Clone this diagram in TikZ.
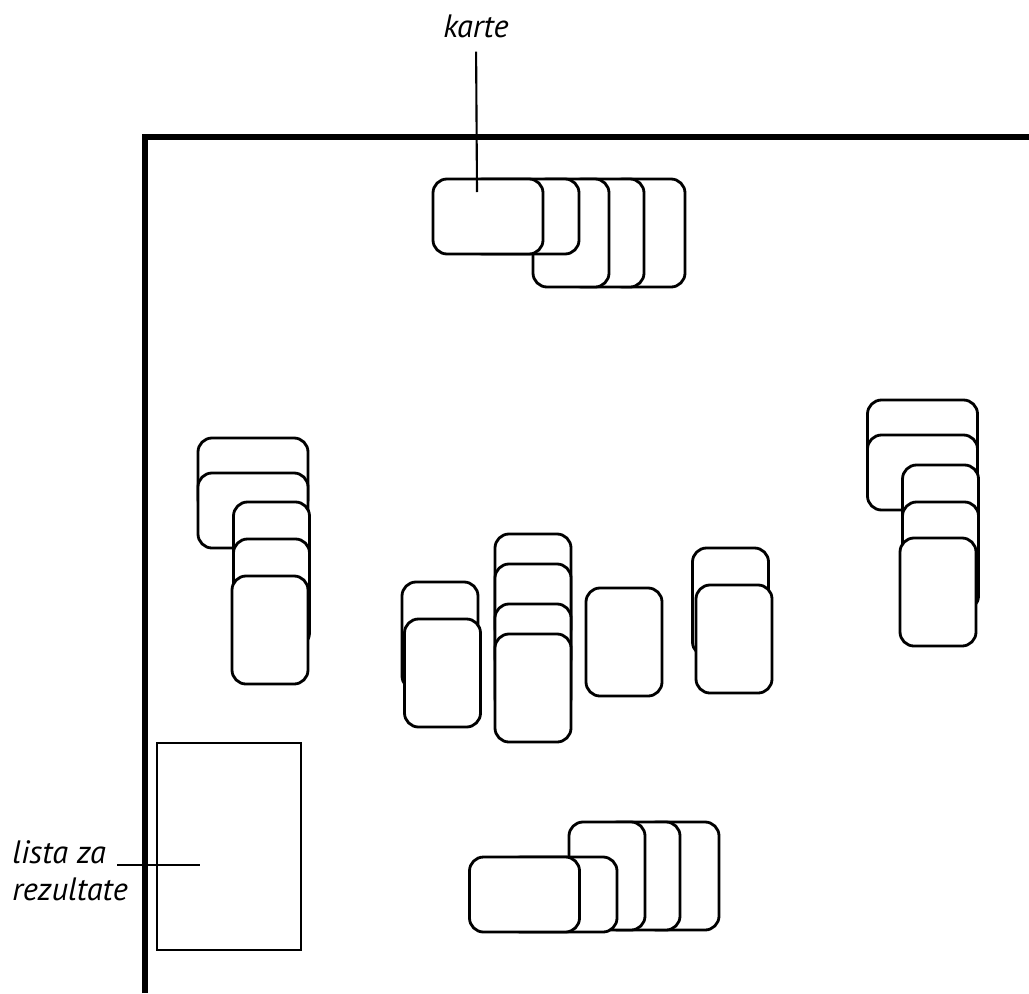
\documentclass[tikz,border=0pt]{standalone}
\usepackage{fontspec}
\setmainfont{PT Sans}
\usepackage{tikz}

\begin{document}
\begin{tikzpicture}[x=0.025cm, y=-0.025cm,
    every node/.style={font=\fontsize{23}{27}\selectfont\itshape, inner sep=0pt},
    card/.style={draw, fill=white, line width=2pt, rounded corners=10pt, outer sep=0pt},
    tall/.style={card, minimum width=1.9cm, minimum height=2.7cm},
    wide/.style={card, minimum width=2.75cm, minimum height=1.875cm},
    pointer/.style={line width=1.5pt}]

\useasboundingbox (0,0) rectangle (1029,993);

% Table edge
\draw[line width=3.8pt] (145,993) -- (145,137) -- (1029,137);

% Top pile
\node[tall] (tE) at (647,233) {};
\node[tall] (tD) at (606,233) {};
\node[tall] (tC) at (571,233) {};
\node[wide] (tB) at (524,216.5) {};
\node[wide] (tA) at (488,216.5) {};

% Left pile
\node[wide] (l1) at (253,475.5) {};
\node[wide] (l2) at (253,510.5) {};
\node[tall] (l3) at (271.5,556) {};
\node[tall] (l4) at (271.5,593) {};
\node[tall] (l5) at (270,630) {};

% Middle piles
\node[tall] (m1a) at (440,636) {};
\node[tall] (m1b) at (442.5,673) {};

\node[tall] (m2a) at (533,588) {};
\node[tall] (m2b) at (533,618) {};
\node[tall] (m2c) at (533,658) {};
\node[tall] (m2d) at (533,688) {};

\node[tall] (m3) at (624,642) {};

\node[tall] (m4a) at (730.5,602) {};
\node[tall] (m4b) at (734,639) {};

% Right pile
\node[wide] (r1) at (922.5,437.5) {};
\node[wide] (r2) at (922.5,472.5) {};
\node[tall] (r3) at (940.5,519) {};
\node[tall] (r4) at (940.5,556) {};
\node[tall] (r5) at (938,592) {};

% Bottom pile
\node[tall] (bE) at (681,876) {};
\node[tall] (bD) at (642,876) {};
\node[tall] (bC) at (607,876) {};
\node[wide] (bB) at (562,894.5) {};
\node[wide] (bA) at (524.5,894.5) {};

% Score sheet
\node[draw, line width=1.6pt, minimum width=3.6cm, minimum height=5.175cm] (sheet) at (229,846.5) {};

% Labels
\node[anchor=base] (karte) at (476,37) {karte};
\coordinate (kend) at (477,192);
\draw[pointer, shorten <=10pt] (karte.south) -- (kend);

\node[anchor=base west] (lista) at (12,863) {lista za};
\node[anchor=base west] (rez) at (12,900) {rezultate};
\coordinate (lend) at (200,865);
\draw[pointer, shorten <=8pt] (lista.base east |- lend) -- (lend);

\end{tikzpicture}
\end{document}
